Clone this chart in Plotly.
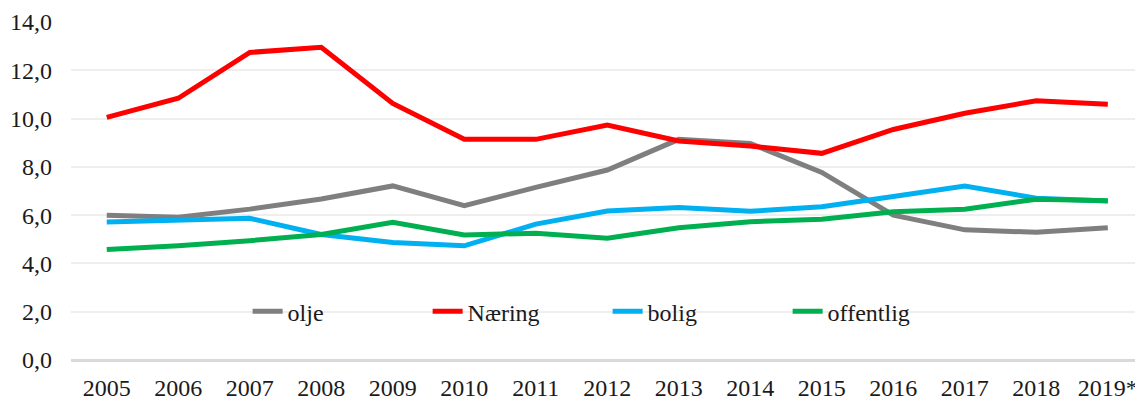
import plotly.graph_objects as go

aar = ["2005", "2006", "2007", "2008", "2009", "2010", "2011", "2012",
       "2013", "2014", "2015", "2016", "2017", "2018", "2019*"]

olje = [6.00, 5.91, 6.25, 6.67, 7.21, 6.39, 7.15, 7.87, 9.14, 8.97, 7.77, 6.00, 5.39, 5.29, 5.48]
naering = [10.05, 10.84, 12.74, 12.95, 10.63, 9.14, 9.14, 9.73, 9.07, 8.86, 8.56, 9.55, 10.22, 10.74, 10.59]
bolig = [5.72, 5.77, 5.87, 5.20, 4.87, 4.73, 5.63, 6.17, 6.32, 6.16, 6.35, 6.77, 7.21, 6.70, 6.59]
offentlig = [4.58, 4.73, 4.94, 5.20, 5.70, 5.18, 5.25, 5.04, 5.48, 5.73, 5.83, 6.14, 6.24, 6.66, 6.60]

serier = [
    ("olje", olje, "#7f7f7f"),
    ("Næring", naering, "#ff0000"),
    ("bolig", bolig, "#00b0f0"),
    ("offentlig", offentlig, "#00b050"),
]

fig = go.Figure()
for navn, verdier, farge in serier:
    fig.add_trace(go.Scatter(
        x=aar, y=verdier, name=navn, mode="lines",
        line=dict(color=farge, width=5),
    ))

fig.update_layout(
    width=1135, height=401,
    margin=dict(l=71, r=0, t=22, b=41, autoexpand=False),
    paper_bgcolor="white", plot_bgcolor="white",
    font=dict(family="Liberation Serif", size=24, color="#1a1a1a"),
    separators=", ",
    showlegend=True,
    legend=dict(
        orientation="h", x=0.166, y=2 / 14, xanchor="left", yanchor="middle",
        entrywidth=135, entrywidthmode="pixels",
        bgcolor="rgba(0,0,0,0)", font=dict(size=24),
    ),
)
fig.update_xaxes(
    type="category", range=[-0.5, 14.38], showgrid=False,
    showline=False, zeroline=False, ticks="", ticklabelstandoff=11,
)
fig.update_yaxes(
    range=[0, 14], dtick=2, tickformat=".1f",
    showgrid=True, gridcolor="#eeeeee", gridwidth=1.5,
    zeroline=True, zerolinecolor="#d9d9d9", zerolinewidth=2.5,
    ticks="", ticklabelstandoff=18,
)

fig.write_html("out.html", config={"displayModeBar": False},
               post_script="document.body.style.margin='0';")
